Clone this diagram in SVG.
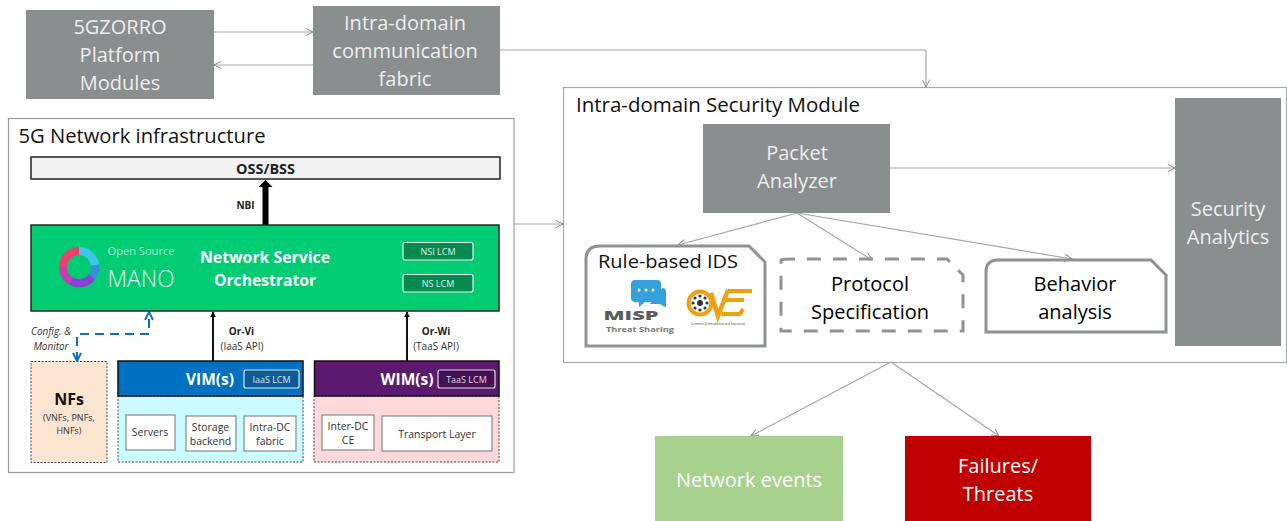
<svg xmlns="http://www.w3.org/2000/svg" width="1287" height="521" viewBox="0 0 1287 521">
<style>
text{font-family:"Open Sans","Noto Sans","Liberation Sans",sans-serif;text-anchor:middle}
.g{fill:#8b8e8f}
.w{fill:#fff}
.t{font-size:20px;fill:#000}
.tw{font-size:20px;fill:#fff}
.tg{font-size:20px;fill:#eee}
.c{fill:none;stroke:#a6a6a6;stroke-width:1.2}
.s{fill:none;stroke:#8f9293;stroke-width:3}
.sb{fill:#fff;stroke:#7f8c8d;stroke-width:1.2}
.m{font-size:10.500px;fill:#333}
.b{font-weight:700}
</style>
<defs>
<marker id="a" viewBox="0 0 10 10" refX="9" refY="5" markerWidth="9" markerHeight="9" orient="auto" markerUnits="userSpaceOnUse"><path d="M1 1L9 5L1 9" fill="none" stroke="#8a8a8a" stroke-width="1.1"/></marker>
<marker id="d" viewBox="0 0 10 10" refX="9" refY="5" markerWidth="7" markerHeight="7" orient="auto-start-reverse" markerUnits="userSpaceOnUse"><path d="M1 1L9 5L1 9" fill="none" stroke="#667" stroke-width="1.3"/></marker>
<marker id="k" viewBox="0 0 10 10" refX="9" refY="5" markerWidth="6" markerHeight="6" orient="auto" markerUnits="userSpaceOnUse"><path d="M0 0L10 5L0 10Z" fill="#000"/></marker>
<marker id="bl" viewBox="0 0 10 10" refX="9" refY="5" markerWidth="10" markerHeight="10" orient="auto-start-reverse" markerUnits="userSpaceOnUse"><path d="M1 1L9 5L1 9" fill="none" stroke="#0f6fc0" stroke-width="2"/></marker>
</defs>

<g id="infrastructure"><rect x="8.500" y="118.500" width="505.500" height="354" fill="#fff" stroke="#9a9d9e" stroke-width="1.200"/><text x="142" y="143" font-size="19.500" fill="#111" textLength="247" lengthAdjust="spacingAndGlyphs">5G Network infrastructure</text></g>
<g id="security-module"><rect x="563.500" y="87.500" width="723" height="275" fill="#fff" stroke="#a6aaaa" stroke-width="1.200"/><text x="718" y="112" font-size="19.500" fill="#111" textLength="284" lengthAdjust="spacingAndGlyphs">Intra-domain Security Module</text></g>

<g id="connectors">
<path class="c" d="M214 32H313" marker-end="url(#a)"/>
<path class="c" d="M313 65H214" marker-end="url(#a)"/>
<path class="c" d="M500 50H926V87" marker-end="url(#a)"/>
<path class="c" d="M514 224H563" marker-end="url(#a)"/>
<path class="c" d="M890 168H1175" marker-end="url(#a)"/>
<path class="c" d="M797 213L678 245" marker-end="url(#a)"/>
<path class="c" d="M797 213L872 260" marker-end="url(#a)"/>
<path class="c" d="M797 213L1072 259" marker-end="url(#a)"/>
<path class="c" d="M891 362L751 436" marker-end="url(#a)"/>
<path class="c" d="M891 362L999 436" marker-end="url(#a)"/>
<path d="M265.500 225V184" fill="none" stroke="#000" stroke-width="6"/>
<path d="M258.500 187L265.500 180L272.500 187Z" fill="#000"/>
<path d="M213 361V312" fill="none" stroke="#111" stroke-width="2" marker-end="url(#k)"/>
<path d="M407 361V312" fill="none" stroke="#111" stroke-width="2" marker-end="url(#k)"/>
<path d="M77 361V334H149V312" fill="none" stroke="#0f6fc0" stroke-width="2" stroke-dasharray="9 6" marker-end="url(#bl)" marker-start="url(#bl)"/>
<g fill="none" stroke="#7e8f90" stroke-width="1"><path d="M153 397V415" marker-start="url(#d)" marker-end="url(#d)"/><path d="M212 397V416" marker-start="url(#d)" marker-end="url(#d)"/><path d="M271 397V416" marker-start="url(#d)" marker-end="url(#d)"/><path d="M349 397V415" marker-start="url(#d)" marker-end="url(#d)"/><path d="M432 397V416" marker-start="url(#d)" marker-end="url(#d)"/></g>
</g>

<g id="platform-modules"><rect class="g" x="26" y="10" width="188" height="89"/><text class="tg" x="120" y="34">5GZORRO</text><text class="tg" x="120" y="62">Platform</text><text class="tg" x="120" y="90">Modules</text></g>
<g id="comm-fabric"><rect class="g" x="313" y="6" width="187" height="89"/><text class="tg" x="405" y="30">Intra-domain</text><text class="tg" x="405" y="58">communication</text><text class="tg" x="405" y="86">fabric</text></g>
<g id="packet-analyzer"><rect class="g" x="703" y="124" width="187" height="89"/><text class="tg" x="797" y="160">Packet</text><text class="tg" x="797" y="188">Analyzer</text></g>
<g id="security-analytics"><rect class="g" x="1175" y="98" width="106" height="248"/><text class="tg" x="1228" y="216">Security</text><text class="tg" x="1228" y="244">Analytics</text></g>
<g id="network-events"><rect x="655" y="436" width="188" height="85" fill="#a9d18e"/><text class="tw" x="749" y="487">Network events</text></g>
<g id="failures"><rect x="905" y="436" width="186" height="85" fill="#c00000"/><text class="tw" x="998" y="473">Failures/</text><text class="tw" x="998" y="501">Threats</text></g>

<g id="rule-ids"><path class="s" d="M586 346V259Q586 246 600 246H749L765 262V346Z"/><text x="668" y="268" font-size="19" fill="#111" textLength="140" lengthAdjust="spacingAndGlyphs">Rule-based IDS</text>
<path d="M635 280H657Q661 280 661 284V298Q661 302 657 302H645L639 307V302H635Q631 302 631 298V284Q631 280 635 280Z" fill="#36a0dc"/><path d="M662 288Q666 288 666 292V306L665 307L660 304H650" fill="#36a0dc"/><circle cx="639" cy="290" r="1.500" fill="#fff"/><circle cx="646" cy="290" r="1.500" fill="#fff"/><circle cx="653" cy="290" r="1.500" fill="#fff"/>
<text x="631" y="320" font-size="13" font-weight="800" fill="#5a5d5e" textLength="55" lengthAdjust="spacingAndGlyphs">MISP</text><text x="640" y="332" font-size="7" font-weight="700" fill="#77797a" textLength="68" lengthAdjust="spacingAndGlyphs">Threat Sharing</text>
<circle cx="700" cy="303" r="11.500" fill="none" stroke="#ef9f12" stroke-width="4"/><circle cx="700" cy="303" r="3" fill="#333"/><g fill="#333"><circle cx="700" cy="296" r="1.600"/><circle cx="700" cy="310" r="1.600"/><circle cx="693" cy="303" r="1.600"/><circle cx="707" cy="303" r="1.600"/><circle cx="695" cy="298" r="1.600"/><circle cx="705" cy="298" r="1.600"/><circle cx="695" cy="308" r="1.600"/><circle cx="705" cy="308" r="1.600"/></g>
<path d="M711 293L718 316L728 290" fill="none" stroke="#ef9f12" stroke-width="4.500"/><path d="M728 291H752M726 300H744M722 314H740L743 309" fill="none" stroke="#ef9f12" stroke-width="4"/>
<text x="718" y="325" font-size="3.500" fill="#444" textLength="54" lengthAdjust="spacingAndGlyphs">Common Vulnerabilities and Exposures</text></g>
<g id="protocol-spec"><path class="s" stroke-dasharray="14 12" d="M781 260Q781 259 795 259H947L963 275V331H781Z"/><text class="t" x="870" y="291">Protocol</text><text class="t" x="870" y="319">Specification</text></g>
<g id="behavior"><path class="s" d="M986 332V272Q986 260 998 260H1151L1166 275V332Z"/><text class="t" x="1075" y="291">Behavior</text><text class="t" x="1075" y="319">analysis</text></g>

<g id="oss-bss"><rect x="31" y="157" width="469" height="22" fill="#f2f2f2" stroke="#222" stroke-width="1.500"/><text class="b" x="265.500" y="174" font-size="13.500" fill="#222" textLength="59" lengthAdjust="spacingAndGlyphs">OSS/BSS</text></g>
<text class="b" x="245.500" y="208.500" font-size="10" fill="#222">NBI</text>
<g id="nso"><rect x="31" y="225" width="468" height="86" fill="#00cc74" stroke="#1c2a22" stroke-width="1.500"/>
<g fill="none" stroke-width="8"><path d="M63 267A16 16 0 0 1 79 251" stroke="#e8416e"/><path d="M79 251A16 16 0 0 1 95 265" stroke="#3fc4ea"/><path d="M95 265A16 16 0 0 1 92 277" stroke="#3b8ce0"/><path d="M92 277A16 16 0 0 1 71 281" stroke="#8a3fd6"/><path d="M71 281A16 16 0 0 1 63 267" stroke="#c23fb0"/></g>
<text x="141" y="255" font-size="11" fill="#a8efce" textLength="67" lengthAdjust="spacingAndGlyphs">Open Source</text><text x="141" y="287" font-size="23" font-weight="300" fill="#e8fff4" textLength="67" lengthAdjust="spacingAndGlyphs">MANO</text>
<text class="b" x="265" y="263" font-size="16" fill="#fff" textLength="130" lengthAdjust="spacingAndGlyphs">Network Service</text><text class="b" x="265" y="286" font-size="16" fill="#fff" textLength="102" lengthAdjust="spacingAndGlyphs">Orchestrator</text>
<rect x="403" y="242.500" width="70" height="17.500" rx="2" fill="#078a50" stroke="#e8f7ef" stroke-width="1.200"/><text x="438" y="255" font-size="9" fill="#d9f2e6">NSI LCM</text>
<rect x="403" y="274.500" width="70" height="17.500" rx="2" fill="#078a50" stroke="#e8f7ef" stroke-width="1.200"/><text x="438" y="287" font-size="9" fill="#d9f2e6">NS LCM</text></g>

<text x="51" y="335" font-size="10" font-style="italic" fill="#333">Config. &amp;</text><text x="51" y="350" font-size="10" font-style="italic" fill="#333">Monitor</text>
<text class="b" x="241.500" y="335" font-size="10" fill="#222">Or-Vi</text><text x="242" y="350" font-size="10" fill="#333">(IaaS API)</text>
<text class="b" x="436" y="335" font-size="10" fill="#222">Or-Wi</text><text x="436" y="350" font-size="10" fill="#333">(TaaS API)</text>

<g id="nfs"><rect x="31" y="361.500" width="76" height="101" fill="#fbe5d0" stroke="#444" stroke-dasharray="2 1.500"/><text class="b" x="69" y="405" font-size="16" fill="#111">NFs</text><text x="69" y="421" font-size="9" fill="#333">(VNFs, PNFs,</text><text x="69" y="434" font-size="9" fill="#333">HNFs)</text></g>
<g id="vim"><rect x="118" y="396" width="185" height="66" fill="#c9fbff" stroke="#444" stroke-dasharray="2 1.500"/><rect x="118" y="361" width="185" height="35" fill="#0070c0" stroke="#111" stroke-width="1.500"/><text class="b" x="210" y="385" font-size="15.500" fill="#fff">VIM(s)</text><rect x="244" y="370" width="55" height="18" rx="2" fill="#0b5b96" stroke="#dbe9f3" stroke-width="1.200"/><text x="271.500" y="382.500" font-size="9" fill="#d9e8f3">IaaS LCM</text>
<rect class="sb" x="126" y="415" width="49" height="35"/><text class="m" x="150" y="436">Servers</text>
<rect class="sb" x="186" y="416" width="50" height="35"/><text class="m" x="210.500" y="431">Storage</text><text class="m" x="210.500" y="445">backend</text>
<rect class="sb" x="244" y="416" width="52" height="35"/><text class="m" x="270" y="431">Intra-DC</text><text class="m" x="270" y="445">fabric</text></g>
<g id="wim"><rect x="314" y="396" width="185" height="66" fill="#ffd9d9" stroke="#444" stroke-dasharray="2 1.500"/><rect x="314.500" y="361" width="184.500" height="35" fill="#5b1a6e" stroke="#111" stroke-width="1.500"/><text class="b" x="407" y="385" font-size="15.500" fill="#fff">WIM(s)</text><rect x="438" y="370" width="57" height="18" rx="2" fill="#431052" stroke="#e3dbe8" stroke-width="1.200"/><text x="466.500" y="382.500" font-size="9" fill="#e0d6e5">TaaS LCM</text>
<rect class="sb" x="322" y="415" width="52" height="35"/><text class="m" x="348" y="430">Inter-DC</text><text class="m" x="348" y="444">CE</text>
<rect class="sb" x="382" y="416" width="110" height="35"/><text class="m" x="437" y="438">Transport Layer</text></g>
</svg>
